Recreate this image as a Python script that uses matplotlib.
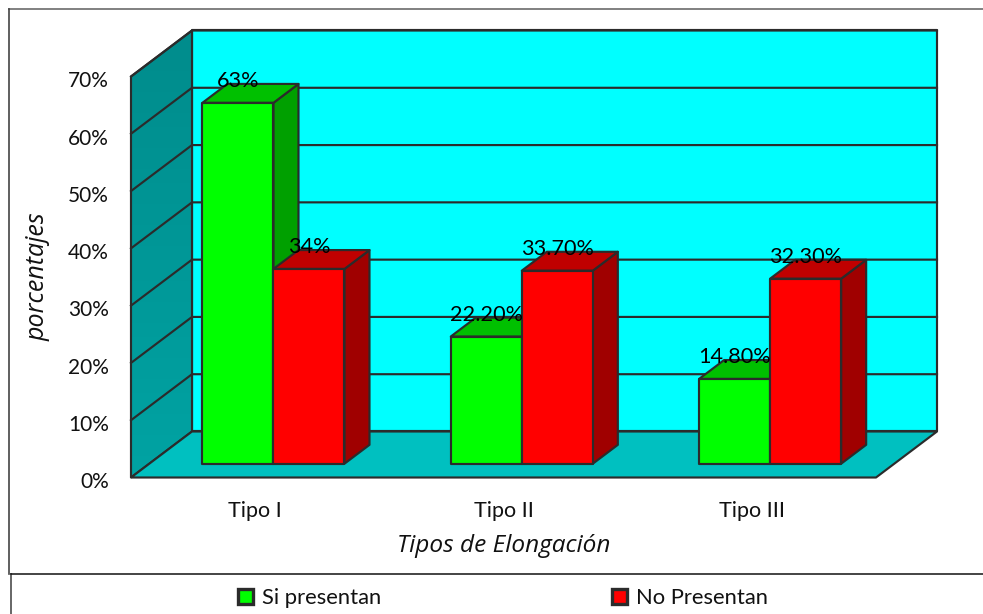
#!/usr/bin/env python3
"""Tipos de elongacion: pseudo 3D column chart, drawn with plain polygons."""

import numpy as np
import matplotlib
matplotlib.use('Agg')
import matplotlib.pyplot as plt
from matplotlib.colors import LinearSegmentedColormap
from matplotlib.lines import Line2D
from matplotlib.patches import Patch, Polygon
from matplotlib.transforms import ScaledTranslation

plt.rcParams['font.family'] = ['Lato', 'DejaVu Sans']

categories = ['Tipo I', 'Tipo II', 'Tipo III']
si_presentan = [63, 22.2, 14.8]
no_presentan = [34, 33.7, 32.3]
si_labels = ['63%', '22.20%', '14.80%']
no_labels = ['34%', '33.70%', '32.30%']
y_ticks = [0, 10, 20, 30, 40, 50, 60, 70]

EDGE = '#2b2b2b'
LW = 1.55
WALL_DX = 0.2456   # depth of the box in category units
WALL_DY = 8.03     # depth of the box in percent units
BAR_START = 0.30   # bars start this far into the box
BAR_DEPTH = 0.41
BAR_W = 0.286

W, H = 983, 614
fig = plt.figure(figsize=(W / 100, H / 100), dpi=100, facecolor='white')
ax = fig.add_axes([131 / W, 1 - 477.5 / H, 745 / W, 401 / H])
ax.set_xlim(-0.5, 2.5)
ax.set_ylim(0, 70)
for s in ax.spines.values():
    s.set_visible(False)


def poly(pts, color, z):
    ax.add_patch(Polygon(pts, closed=True, facecolor=color, edgecolor=EDGE,
                         linewidth=LW, joinstyle='round', clip_on=False, zorder=z))


x0, x1 = -0.5, 2.5
top = 70

# back wall, left wall with its soft gradient, floor
poly([(x0 + WALL_DX, WALL_DY), (x1 + WALL_DX, WALL_DY),
      (x1 + WALL_DX, top + WALL_DY), (x0 + WALL_DX, top + WALL_DY)], '#00ffff', 1)

left_pts = [(x0, 0), (x0 + WALL_DX, WALL_DY), (x0 + WALL_DX, top + WALL_DY), (x0, top)]
wall_cmap = LinearSegmentedColormap.from_list('wall', ['#00a3a3', '#008c8c'])
img = ax.imshow(np.linspace(0, 1, 64).reshape(-1, 1), cmap=wall_cmap, aspect='auto',
                origin='lower', extent=(x0, x0 + WALL_DX, 0, top + WALL_DY), zorder=1)
left_wall = Polygon(left_pts, closed=True, facecolor='none', edgecolor=EDGE,
                    linewidth=LW, clip_on=False, zorder=1.2)
ax.add_patch(left_wall)
img.set_clip_box(fig.bbox)
img.set_clip_path(left_wall)
ax.set_xlim(-0.5, 2.5)
ax.set_ylim(0, 70)

poly([(x0, 0), (x1, 0), (x1 + WALL_DX, WALL_DY), (x0 + WALL_DX, WALL_DY)], '#00c0c0', 1.5)

# gridlines run along the back wall and down the left wall
for t in y_ticks[1:]:
    ax.plot([x0, x0 + WALL_DX, x1 + WALL_DX], [t, t + WALL_DY, t + WALL_DY],
            color=EDGE, lw=LW, clip_on=False, zorder=1.3)


def bar3d(left, value, front, side, roof, z):
    right = left + BAR_W
    bx = BAR_START * WALL_DX
    by = BAR_START * WALL_DY
    dx = BAR_DEPTH * WALL_DX
    dy = BAR_DEPTH * WALL_DY
    l, r = left + bx, right + bx
    poly([(r, by), (r + dx, by + dy), (r + dx, by + dy + value), (r, by + value)], side, z)
    poly([(l, by + value), (r, by + value), (r + dx, by + dy + value),
          (l + dx, by + dy + value)], roof, z)
    poly([(l, by), (r, by), (r, by + value), (l, by + value)], front, z + 0.1)
    return (l + r) / 2, by + value


for i, name in enumerate(categories):
    z = 2 + i
    gx, gy = bar3d(i - BAR_W, si_presentan[i], '#00ff00', '#00a000', '#00c000', z)
    rx, ry = bar3d(i, no_presentan[i], '#ff0000', '#a00000', '#c00000', z + 0.3)
    ax.annotate(si_labels[i], (gx, gy), xytext=(0, 22), textcoords='offset pixels',
                ha='center', va='center', fontsize=15.6, color='black', zorder=10,
                annotation_clip=False)
    ax.annotate(no_labels[i], (rx, ry), xytext=(0, 22), textcoords='offset pixels',
                ha='center', va='center', fontsize=15.6, color='black', zorder=10,
                annotation_clip=False)

ax.set_yticks(y_ticks)
ax.set_yticklabels([f'{t}%' for t in y_ticks], fontsize=15, color='#111111')
ax.set_xticks(range(len(categories)))
ax.set_xticklabels(categories, fontsize=15.5, color='#111111')
ax.tick_params(axis='y', length=0, pad=16)
ax.tick_params(axis='x', length=0, pad=17)

# the percent labels sit a little below their gridline
shift = ScaledTranslation(0, -2 / 72, fig.dpi_scale_trans)
for lab in ax.get_yticklabels():
    lab.set_transform(lab.get_transform() + shift)

fig.text(38 / W, 1 - 277 / H, 'porcentajes', rotation=90, style='italic', fontsize=18,
         family=['Open Sans', 'DejaVu Sans'], ha='center', va='center', color='#111111')
fig.text(504 / W, 1 - 546 / H, 'Tipos de Elongación', style='italic', fontsize=17.6,
         family=['Open Sans', 'DejaVu Sans'], ha='center', va='center', color='#111111')

handles = [Patch(facecolor='#00ff00', edgecolor=EDGE, linewidth=2.4, label='Si presentan'),
           Patch(facecolor='#ff0000', edgecolor=EDGE, linewidth=2.4, label='No Presentan')]
fig.legend(handles=handles, ncols=2, loc='center', bbox_to_anchor=(503 / W, 1 - 598.5 / H),
           frameon=False, fontsize=15.8, handlelength=0.68, handleheight=0.68,
           handletextpad=0.42, columnspacing=10.5, labelcolor='#111111')

# chart frame and the rule above the legend
fig.add_artist(Line2D([9 / W, 1], [1 - 8.5 / H, 1 - 8.5 / H], color='#808080', lw=1.4))
fig.add_artist(Line2D([9 / W, 9 / W], [1 - 8.5 / H, 1 - 574 / H], color='#444444', lw=1.2))
fig.add_artist(Line2D([11 / W, 11 / W], [1 - 574 / H, 0], color='#666666', lw=1.4))
fig.add_artist(Line2D([11 / W, 1], [1 - 574 / H, 1 - 574 / H], color='#111111', lw=1.1))

fig.savefig('out.png', dpi=100)
